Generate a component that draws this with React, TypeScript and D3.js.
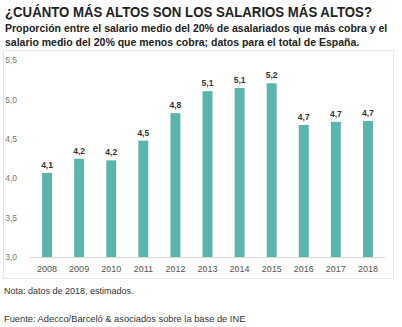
import React from "react";
import * as d3 from "d3";

const years = ["2008","2009","2010","2011","2012","2013","2014","2015","2016","2017","2018"];
const values = [4.07, 4.25, 4.23, 4.48, 4.83, 5.11, 5.15, 5.21, 4.68, 4.72, 4.73];
const labels = ["4,1","4,2","4,2","4,5","4,8","5,1","5,1","5,2","4,7","4,7","4,7"];
const yTicks = [3.0, 3.5, 4.0, 4.5, 5.0, 5.5];

const W = 402, H = 327;
const FONT = "'Liberation Sans', Arial, sans-serif";

export default function App() {
  const x = d3.scaleBand<string>().domain(years).range([31, 384]).paddingInner(0.69).paddingOuter(0.345);
  const y = d3.scaleLinear().domain([3, 5.5]).range([257, 60.5]);
  const fmt = (v: number) => v.toFixed(1).replace(".", ",");
  return (
    <svg width={W} height={H} style={{ position: "absolute", left: 0, top: 0, background: "#fff" }} fontFamily={FONT}>
      <text x={5} y={16.5} fontSize={14} fontWeight="bold" fill="#222" textLength={367} lengthAdjust="spacingAndGlyphs">¿CUÁNTO MÁS ALTOS SON LOS SALARIOS MÁS ALTOS?</text>
      <text x={5} y={32} fontSize={10.5} fontWeight="bold" fill="#222">Proporción entre el salario medio del 20% de asalariados que más cobra y el</text>
      <text x={5} y={46} fontSize={10.5} fontWeight="bold" fill="#222">salario medio del 20% que menos cobra; datos para el total de España.</text>
      <rect x={3.5} y={50.5} width={390} height={228} fill="none" stroke="#e6e6e6" />
      {yTicks.map((t) => (
        <text key={t} x={17} y={y(t)} dy="0.35em" textAnchor="end" fontSize={8.5} fill="#777">{fmt(t)}</text>
      ))}
      <line x1={30} x2={385} y1={y(3) + 0.5} y2={y(3) + 0.5} stroke="#d9d9d9" />
      {years.map((yr, i) => (
        <g key={yr}>
          <rect x={x(yr)} y={y(values[i])} width={x.bandwidth()} height={y(3) - y(values[i])} fill="#5ab5ad" />
          <text x={(x(yr) as number) + x.bandwidth() / 2} y={y(values[i]) - 5} textAnchor="middle" fontSize={8.5} fontWeight="bold" fill="#333">{labels[i]}</text>
          <text x={(x(yr) as number) + x.bandwidth() / 2} y={269} dy="0.35em" textAnchor="middle" fontSize={9} fill="#555">{yr}</text>
        </g>
      ))}
      <text x={4} y={294} fontSize={9} fill="#333">Nota: datos de 2018, estimados.</text>
      <text x={4} y={322} fontSize={9.3} fill="#333">Fuente: Adecco/Barceló &amp; asociados sobre la base de INE</text>
    </svg>
  );
}
